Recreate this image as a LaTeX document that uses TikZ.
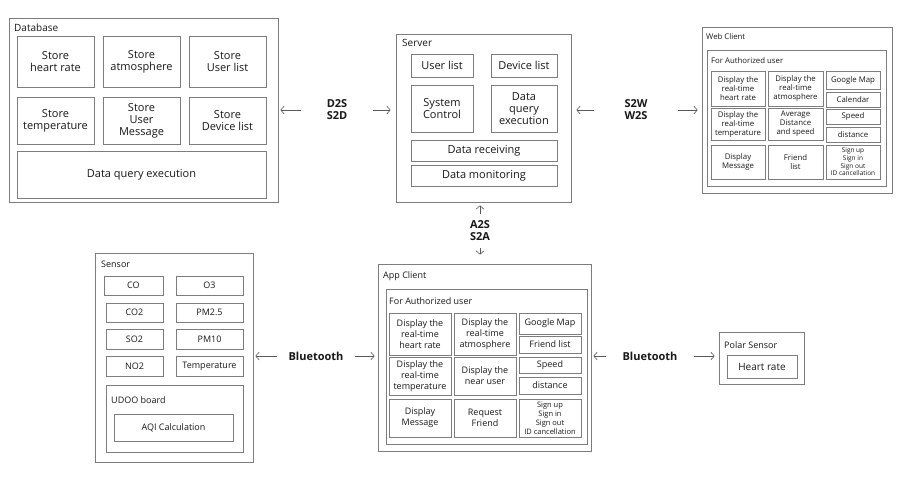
\documentclass[tikz,border=0pt]{standalone}
\usepackage{fontspec}
\setmainfont{Open Sans}
\usetikzlibrary{arrows.meta}
\definecolor{boxgray}{RGB}{125,125,125}
\definecolor{txt}{RGB}{25,25,25}
\tikzset{
  frame/.style={draw=boxgray, line width=0.7pt, inner sep=0pt},
  cell/.style={frame, align=center, text=txt},
  % corners: x1, y1, x2, y2
  span/.style n args={4}{minimum width={#3-#1}, minimum height={#4-#2},
    at={({(#1+#3)/2},{(#2+#4)/2})}},
  fbig/.style={font=\fontsize{11}{12}\selectfont},
  fmid/.style={font=\fontsize{9}{11.2}\selectfont},
  fweb/.style={font=\fontsize{7.8}{9}\selectfont},
  ftiny/.style={font=\fontsize{6.5}{7.6}\selectfont},
  title/.style={anchor=base west, inner sep=0pt, text=txt},
  link/.style={font=\fontsize{11}{12}\selectfont\bfseries, align=center, text=txt},
  arr/.style={-{Straight Barb[length=3.5pt,width=8pt]}, draw=black!65, line width=0.6pt}
}
\begin{document}
\begin{tikzpicture}[x=1pt, y=-1pt]
%\draw[help lines] (0,0) grid (905,479);
\path[fill=white, use as bounding box] (0,0) rectangle (905,479);

% Database
\node[frame, span={9}{18}{278}{202}] (db) {};
\node[title, fmid, font=\fontsize{10}{12}\selectfont] (dbtitle) at (14,31) {Database};
\node[cell, fbig, span={17}{36}{94}{87}] (dbhr) {Store\\heart rate};
\node[cell, fbig, span={103}{36}{180}{87}] (dbatm) {Store\\atmosphere};
\node[cell, fbig, span={189}{36}{266}{87}] (dbul) {Store\\User list};
\node[cell, fbig, span={17}{97}{94}{144}] (dbtemp) {Store\\temperature};
\node[cell, fbig, span={103}{97}{180}{144}] (dbmsg) {Store\\User\\Message};
\node[cell, fbig, span={189}{97}{266}{144}] (dbdev) {Store\\Device list};
\node[cell, fbig, span={17}{151}{266}{198}] (dbquery) {Data query execution};

% Server
\node[frame, span={396}{34}{571}{202}] (sv) {};
\node[title, font=\fontsize{10}{12}\selectfont] (svtitle) at (402,46) {Server};
\node[cell, fbig, span={411}{54}{473}{77}] (svul) {User list};
\node[cell, fbig, span={491}{54}{557}{77}] (svdev) {Device list};
\node[cell, fbig, span={411}{85}{473}{132}] (svctl) {System\\Control};
\node[cell, fbig, span={491}{85}{557}{132}] (svquery) {Data\\query\\execution};
\node[cell, fbig, span={411}{140}{557}{161}] (svrecv) {Data receiving};
\node[cell, fbig, span={411}{165}{557}{186}] (svmon) {Data monitoring};

% Web client
\node[frame, span={702}{27}{892}{193}] (wc) {};
\node[title, fweb] (wctitle) at (706,39) {Web Client};
\node[frame, span={707}{50}{886}{186}] (wcauth) {};
\node[title, fweb] (wcauthtitle) at (711,63) {For Authorized user};
\node[cell, fweb, span={711}{71}{765}{106}] (wchr) {Display the\\real-time\\heart rate};
\node[cell, fweb, span={768}{71}{823}{106}] (wcatm) {Display the\\real-time\\atmosphere};
\node[cell, fweb, span={826}{71}{880}{89}] (wcmap) {Google Map};
\node[cell, fweb, span={826}{92}{880}{107}] (wccal) {Calendar};
\node[cell, fweb, span={711}{108}{765}{140}] (wctemp) {Display the\\real-time\\temperature};
\node[cell, fweb, span={768}{108}{823}{140}] (wcavg) {Average\\Distance\\and speed};
\node[cell, fweb, span={826}{109}{880}{124}] (wcspd) {Speed};
\node[cell, fweb, span={826}{127}{880}{142}] (wcdist) {distance};
\node[cell, fweb, span={711}{145}{765}{179}] (wcmsg) {Display\\Message};
\node[cell, fweb, span={768}{145}{823}{179}] (wcfr) {Friend\\list};
\node[cell, ftiny, span={826}{145}{880}{179}] (wcsign) {Sign up\\Sign in\\Sign out\\ID cancellation};

% Sensor
\node[frame, span={95}{253}{253}{462}] (se) {};
\node[title, fmid] (setitle) at (101,267) {Sensor};
\node[cell, fmid, span={104}{276}{163}{295}] (seco) {CO};
\node[cell, fmid, span={176}{276}{243}{295}] (seo3) {O3};
\node[cell, fmid, span={106}{303}{163}{322}] (seco2) {CO2};
\node[cell, fmid, span={176}{303}{243}{322}] (sepm25) {PM2.5};
\node[cell, fmid, span={106}{329}{163}{349}] (seso2) {SO2};
\node[cell, fmid, span={176}{329}{243}{349}] (sepm10) {PM10};
\node[cell, fmid, span={106}{356}{163}{376}] (seno2) {NO2};
\node[cell, fmid, span={176}{356}{243}{376}] (setemp) {Temperature};
\node[frame, span={106}{385}{243}{452}] (udoo) {};
\node[title, fmid] (udootitle) at (111,403) {UDOO board};
\node[cell, fmid, span={114}{414}{233}{441}] (aqi) {AQI Calculation};

% App client
\node[frame, span={378}{264}{591}{451}] (ac) {};
\node[title, fmid] (actitle) at (383,278) {App Client};
\node[frame, span={386}{289}{587}{444}] (acauth) {};
\node[title, fmid] (acauthtitle) at (389,304) {For Authorized user};
\node[cell, fmid, span={389}{313}{451}{355}] (achr) {Display the\\real-time\\heart rate};
\node[cell, fmid, span={454}{313}{516}{355}] (acatm) {Display the\\real-time\\atmosphere};
\node[cell, fmid, span={519}{313}{581}{334}] (acmap) {Google Map};
\node[cell, fmid, span={519}{336}{581}{353}] (acfr) {Friend list};
\node[cell, fmid, span={389}{357}{451}{395}] (actemp) {Display the\\real-time\\temperature};
\node[cell, fmid, span={454}{357}{516}{395}] (acnear) {Display the\\near user};
\node[cell, fmid, span={519}{357}{581}{373}] (acspd) {Speed};
\node[cell, fmid, span={519}{377}{581}{394}] (acdist) {distance};
\node[cell, fmid, span={389}{399}{451}{437}] (acmsg) {Display\\Message};
\node[cell, fmid, span={454}{399}{516}{437}] (acreq) {Request\\Friend};
\node[cell, font=\fontsize{7.5}{9}\selectfont, span={519}{399}{581}{437}] (acsign) {Sign up\\Sign in\\Sign out\\ID cancellation};

% Polar sensor
\node[frame, span={719}{332}{804}{384}] (ps) {};
\node[title, fmid] (pstitle) at (724,348) {Polar Sensor};
\node[cell, font=\fontsize{10}{12}\selectfont, span={727}{355}{797}{378}] (pshr) {Heart rate};

% links
\node[link, inner xsep=26pt] (d2s) at (337,110) {D2S\\S2D};
\node[link, inner xsep=30pt] (s2w) at (636,110) {S2W\\W2S};
\node[link, inner ysep=7pt] (a2s) at (480,231) {A2S\\S2A};
\node[link, inner xsep=11pt] (bt1) at (316,356) {Bluetooth};
\node[link, inner xsep=16pt] (bt2) at (650,356) {Bluetooth};

\draw[arr, shorten >=2pt] (d2s) -- (d2s -| db.east);
\draw[arr, shorten >=5pt] (d2s) -- (d2s -| sv.west);
\draw[arr, shorten >=5pt] (s2w) -- (s2w -| sv.east);
\draw[arr, shorten >=4pt] (s2w) -- (s2w -| wc.west);
\draw[arr, shorten >=3pt] (a2s) -- (a2s |- sv.south);
\draw[arr, shorten >=9pt] (a2s) -- (a2s |- ac.north);
\draw[arr, shorten >=2pt] (bt1) -- (bt1 -| se.east);
\draw[arr, shorten >=3pt] (bt1) -- (bt1 -| ac.west);
\draw[arr, shorten >=2pt] (bt2) -- (bt2 -| ac.east);
\draw[arr, shorten >=4pt] (bt2) -- (bt2 -| ps.west);
\end{tikzpicture}
\end{document}
